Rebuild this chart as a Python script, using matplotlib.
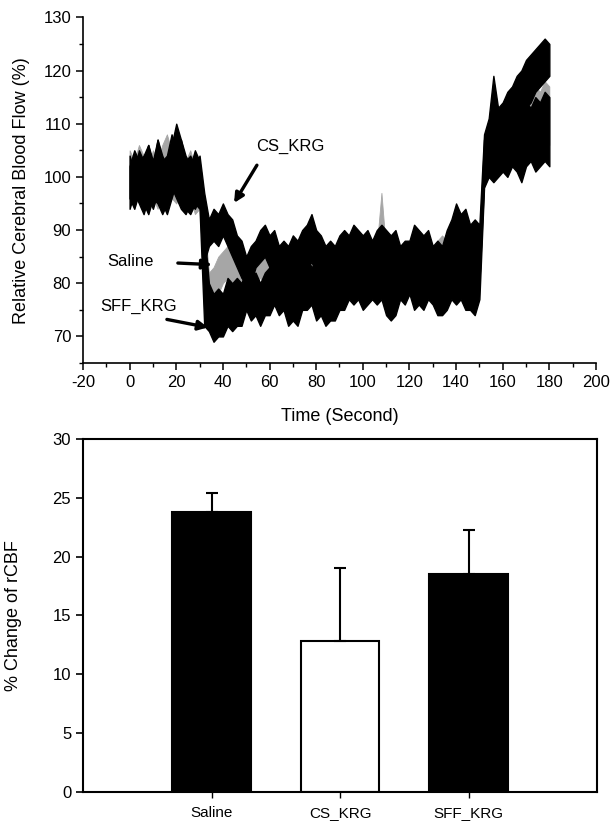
import numpy as np
import matplotlib
matplotlib.use("Agg")
import matplotlib.pyplot as plt
from matplotlib.ticker import MultipleLocator

plt.rcParams['font.family'] = ['Liberation Sans', 'DejaVu Sans']
plt.rcParams['axes.unicode_minus'] = False

# ---------------- data: time trace (2-second samples, band low/high) ----------------
t = list(range(0, 181, 2))

cs_hi = [104,101,105,103,106,102,107,103,104,108,105,107,103,104,102,104,
         97,
         92,94,93,95,93,92,89,88,85,
         87,88,90,91,89,90,87,88,87,89,
         88,90,91,93,90,89,87,88,87,89,
         90,89,91,90,89,90,88,90,91,90,
         89,90,87,88,88,91,90,89,90,87,
         88,87,90,92,95,93,94,91,92,91,
         108,111,119,113,114,116,117,119,120,122,123,124,125,126,125]
cs_lo = [96,94,97,95,93,96,95,93,95,98,96,94,93,95,94,96,
         84,
         87,88,87,89,87,85,83,81,80,
         80,83,84,85,83,81,80,79,80,79,
         80,81,83,84,82,80,79,78,80,81,
         82,81,83,82,81,80,79,81,82,81,
         80,79,78,78,79,81,82,81,79,78,
         77,78,80,82,84,83,81,80,79,80,
         99,101,102,104,105,107,108,110,111,113,114,116,117,118,119]

sff_hi = [102,105,103,104,106,103,107,104,102,106,110,107,104,102,105,103,
          90,
          80,78,79,78,81,80,81,80,83,
          81,82,80,82,83,84,83,82,81,83,
          82,84,85,83,84,82,83,82,84,85,
          84,86,85,84,85,84,86,85,86,84,
          83,85,86,85,86,84,85,84,86,85,
          84,83,85,86,87,86,85,86,84,87,
          107,109,110,109,112,110,113,112,112,114,113,115,114,116,115]
sff_lo = [94,97,95,93,96,94,97,95,93,96,99,97,94,93,95,94,
          72,
          71,69,70,70,72,71,72,72,75,
          73,74,72,74,74,76,74,75,72,73,
          72,75,75,76,73,74,72,73,73,75,
          75,77,76,77,75,76,77,76,77,74,
          73,74,77,76,78,75,76,75,77,76,
          74,74,75,77,76,77,75,75,74,77,
          98,100,99,100,101,100,102,101,99,102,103,101,102,103,102]

sal_hi = [105,103,106,104,102,105,103,106,108,105,104,106,103,105,102,103,
          92,
          82,83,85,86,87,86,84,82,83,
          84,86,86,85,84,83,84,85,86,85,
          84,83,84,85,86,85,84,85,86,87,
          86,87,87,86,86,87,86,87,97,86,
          85,84,85,86,87,86,85,84,85,86,
          88,89,88,87,88,90,91,90,89,90,
          106,108,109,111,112,111,113,114,113,115,116,117,116,118,117]
sal_lo = [96,94,97,95,93,96,94,97,99,96,95,97,94,96,93,94,
          78,
          76,77,78,80,81,80,78,76,77,
          79,80,81,80,79,78,78,79,80,79,
          78,77,78,79,80,79,78,79,80,81,
          80,81,81,80,80,81,80,81,81,80,
          79,78,79,80,81,80,79,78,79,80,
          81,82,82,81,82,83,84,83,82,83,
          98,100,101,102,103,102,104,105,104,105,106,105,106,107,106]

# ---------------- data: bar chart ----------------
groups = ['Saline', 'CS_KRG', 'SFF_KRG']
means = [23.8, 12.8, 18.5]
errs = [1.6, 6.2, 3.8]
bar_colors = ['black', 'white', 'black']

# ---------------- figure ----------------
fig = plt.figure(figsize=(6.1, 8.26), dpi=100)

ax1 = fig.add_axes([0.136, 0.5605, 0.841, 0.4185])
ax1.fill_between(t, sal_lo, sal_hi, color='#a6a6a6', lw=0.6, zorder=1)
ax1.fill_between(t, cs_lo, cs_hi, color='black', lw=1.0, zorder=2)
ax1.fill_between(t, sff_lo, sff_hi, color='black', lw=1.0, zorder=2)

ax1.set_xlim(-20, 200)
ax1.set_ylim(65, 130)
ax1.xaxis.set_major_locator(MultipleLocator(20))
ax1.xaxis.set_minor_locator(MultipleLocator(10))
ax1.yaxis.set_minor_locator(MultipleLocator(5))
ax1.set_yticks([70, 80, 90, 100, 110, 120, 130])
for s in ['top', 'right']:
    ax1.spines[s].set_visible(False)
for s in ['left', 'bottom']:
    ax1.spines[s].set_linewidth(1.2)
ax1.tick_params(which='major', direction='out', length=5, width=1.1, labelsize=12)
ax1.tick_params(which='minor', direction='out', length=3, width=1.0)
ax1.set_xlabel('Time (Second)', fontsize=13)
ax1.set_ylabel('Relative Cerebral Blood Flow (%)', fontsize=13)
ax1.xaxis.set_label_coords(0.5, -0.13)
ax1.yaxis.set_label_coords(-0.103, 0.5)

arrow_kw = dict(arrowstyle='-|>', lw=2.4, color='black', mutation_scale=14,
                shrinkA=0, shrinkB=0)
ax1.text(68.8, 105.8, 'CS_KRG', fontsize=12, ha='center', va='center')
ax1.annotate('', xy=(44.8, 95.1), xytext=(54.6, 102.2), arrowprops=arrow_kw, zorder=5)
ax1.text(0.2, 84.0, 'Saline', fontsize=12, ha='center', va='center')
ax1.annotate('', xy=(35.3, 83.5), xytext=(20.7, 83.8), arrowprops=arrow_kw, zorder=5)
ax1.text(4.0, 75.6, 'SFF_KRG', fontsize=12, ha='center', va='center')
ax1.annotate('', xy=(33.6, 71.7), xytext=(16.0, 73.2), arrowprops=arrow_kw, zorder=5)

# ---------------- bar chart ----------------
ax2 = fig.add_axes([0.136, 0.0412, 0.843, 0.4273])
pos = [1, 2, 3]
ax2.bar(pos, means, width=0.61, color=bar_colors, edgecolor='black', linewidth=1.5,
        zorder=2)
ax2.errorbar(pos, means, yerr=[[0, 0, 0], errs], fmt='none', ecolor='black',
             elinewidth=1.5, capsize=4, capthick=1.5, zorder=3)
ax2.set_xlim(0, 4)
ax2.set_ylim(0, 30)
ax2.set_yticks([0, 5, 10, 15, 20, 25, 30])
ax2.set_xticks(pos)
ax2.set_xticklabels(groups, fontsize=11)
ax2.tick_params(axis='y', direction='out', length=5, width=1.2, labelsize=12)
ax2.tick_params(axis='x', direction='out', length=4, width=1.0, pad=6)
for s in ax2.spines.values():
    s.set_linewidth(1.5)
ax2.set_ylabel('% Change of rCBF', fontsize=13)
ax2.yaxis.set_label_coords(-0.119, 0.5)

fig.savefig('out.png', dpi=100)
